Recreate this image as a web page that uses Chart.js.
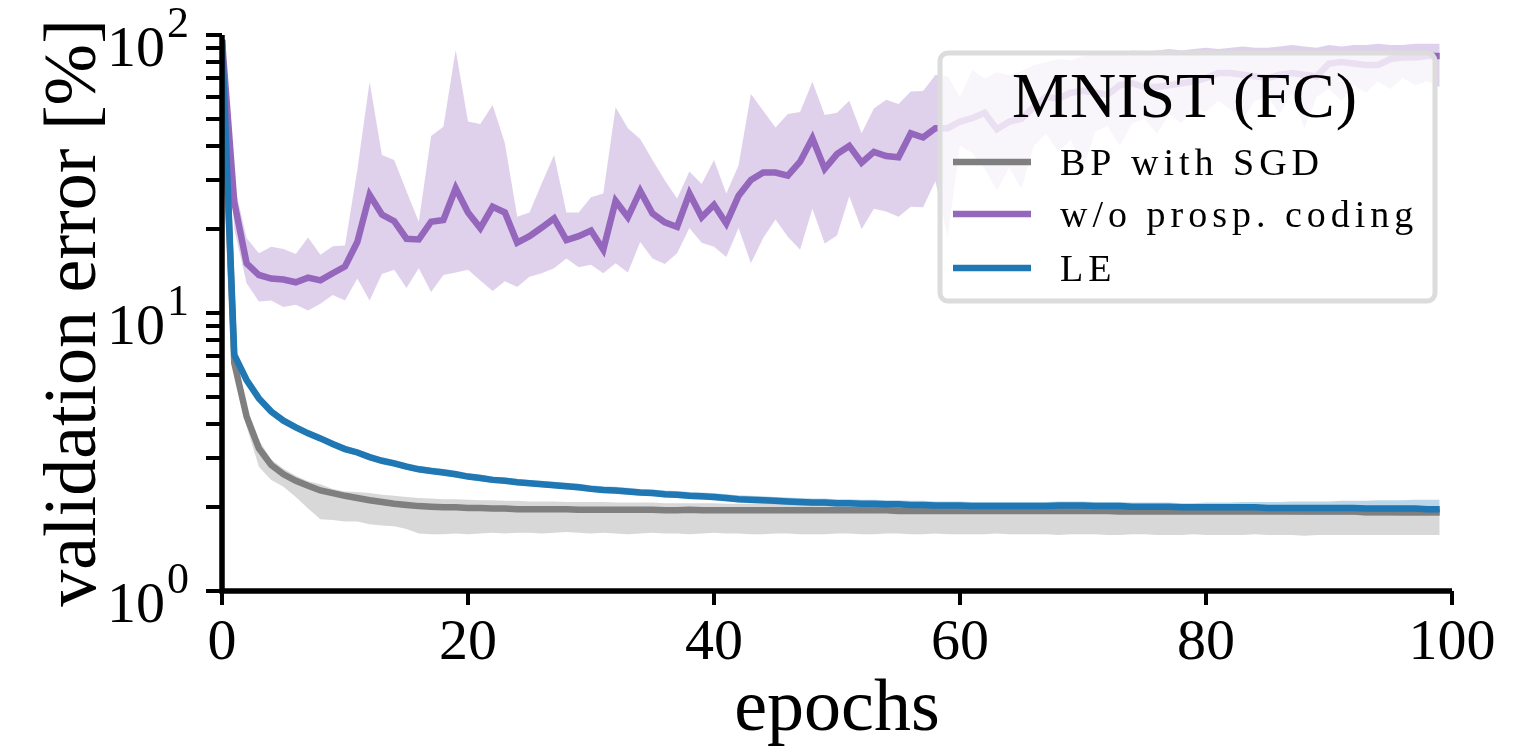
<!DOCTYPE html>
<html>
<head>
<meta charset="utf-8">
<script src="https://cdn.jsdelivr.net/npm/chart.js@4.4.1/dist/chart.umd.min.js"></script>
<style>
  body { margin:0; background:#fff; }
  canvas { display:block; }
</style>
</head>
<body>
<canvas id="plot" width="1527" height="755"></canvas>
<script>
// ---- data ----
const epochs = Array.from({length: 100}, (_, i) => i);

const yTicks = [1,2,3,4,5,6,7,8,9,10,20,30,40,50,60,70,80,90,100];
const yMajor = [1, 10, 100];
const yExp = ['0', '1', '2'];
const xTicks = [0, 20, 40, 60, 80, 100];

const legendTitle = 'MNIST (FC)';
const seriesNames = ['BP with SGD', 'w/o prosp. coding', 'LE'];

// BP with SGD
const bpMean = [96,6.6,4.24,3.26,2.84,2.63,2.49,2.39,2.30,2.25,
  2.20,2.16,2.12,2.09,2.06,2.04,2.02,2.01,2.00,2.00,
  1.99,1.99,1.98,1.98,1.97,1.97,1.97,1.97,1.97,1.96,
  1.96,1.96,1.96,1.96,1.96,1.96,1.95,1.95,1.96,1.95,
  1.95,1.95,1.95,1.95,1.95,1.95,1.95,1.95,1.95,1.95,
  1.95,1.95,1.95,1.95,1.95,1.94,1.94,1.94,1.94,1.94,
  1.94,1.94,1.94,1.94,1.94,1.94,1.94,1.94,1.94,1.94,
  1.94,1.94,1.94,1.93,1.93,1.93,1.93,1.93,1.93,1.93,
  1.93,1.93,1.93,1.93,1.93,1.93,1.93,1.93,1.93,1.93,
  1.93,1.93,1.93,1.92,1.92,1.92,1.92,1.92,1.92,1.92];
const bpLow = [90,6.0,3.9,2.80,2.51,2.37,2.18,1.98,1.81,1.80,
  1.78,1.78,1.74,1.72,1.71,1.67,1.61,1.60,1.60,1.61,
  1.60,1.61,1.62,1.61,1.62,1.62,1.61,1.62,1.63,1.62,
  1.61,1.62,1.61,1.60,1.61,1.62,1.61,1.61,1.60,1.61,
  1.62,1.61,1.61,1.60,1.60,1.61,1.61,1.60,1.60,1.60,
  1.61,1.61,1.60,1.60,1.61,1.61,1.60,1.60,1.61,1.60,
  1.60,1.60,1.60,1.61,1.60,1.60,1.60,1.60,1.59,1.60,
  1.60,1.60,1.59,1.59,1.60,1.60,1.59,1.59,1.59,1.60,
  1.59,1.59,1.59,1.59,1.60,1.59,1.59,1.59,1.58,1.59,
  1.59,1.59,1.59,1.59,1.59,1.59,1.59,1.59,1.59,1.59];
const bpHigh = [99,7.2,4.6,3.49,2.97,2.75,2.60,2.48,2.42,2.33,
  2.28,2.27,2.25,2.22,2.20,2.18,2.16,2.15,2.14,2.14,
  2.13,2.12,2.12,2.11,2.11,2.10,2.10,2.10,2.09,2.09,
  2.09,2.09,2.08,2.08,2.08,2.08,2.07,2.07,2.07,2.07,
  2.07,2.06,2.06,2.06,2.06,2.06,2.06,2.05,2.05,2.05,
  2.05,2.05,2.05,2.05,2.05,2.04,2.04,2.04,2.04,2.04,
  2.04,2.04,2.04,2.04,2.04,2.04,2.04,2.04,2.04,2.04,
  2.03,2.03,2.03,2.03,2.03,2.03,2.03,2.03,2.03,2.03,
  2.03,2.03,2.03,2.03,2.03,2.03,2.03,2.03,2.03,2.03,
  2.02,2.02,2.02,2.02,2.02,2.02,2.02,2.02,2.02,2.02];

// w/o prospective coding
const npMean = [96,25,15.1,13.7,13.3,13.2,12.9,13.4,13.1,13.9,
  14.7,18.0,26.6,22.6,21.4,18.5,18.4,21.3,21.6,28.1,
  23.0,20.2,24.1,23.0,17.9,18.9,20.3,21.9,18.3,18.9,
  19.8,16.9,25.3,22.1,27.5,22.8,21.2,20.4,26.9,22.1,
  24.5,21.0,26.4,30.1,32.0,32.0,31.2,35.0,42.5,33.0,
  37.3,39.9,34.7,38.0,36.7,36.3,44.3,42.8,46.2,46.2,
  48.8,50.2,52.5,45.8,48.8,50,55,60,59,62,
  63,62,61,66,67,65,65,66,67,68,
  70,73,73,72,71,70,72,73,72,71,
  79,80,79,78,78,82,83,83,84,84];
const npLow = [90,20,12.8,11.0,11.1,10.5,10.7,10.2,10.8,11.6,
  11.1,13.3,11.1,13.8,14.3,12.3,14.5,11.9,13.7,14.0,
  14.3,13.1,12.0,13.0,12.4,13.5,13.9,14.5,15.7,14.6,
  14.9,13.9,15.1,14.0,18.0,15.7,15.0,16.4,20.2,17.9,
  17.3,15.9,20.2,15.1,18.6,21.7,18.8,16.9,23.7,17.8,
  19.0,26.3,20.0,23.7,23.2,22.2,24.1,24.0,29.8,18.8,
  39.9,37.6,33.0,27.6,33.3,28,40,44,38,42,
  33,45,47,40,48,50,44,52,48,55,
  53,58,54,50,58,60,52,62,46,60,
  64,58,66,62,68,64,70,66,68,65];
const npHigh = [100,29,18.6,16.4,17.3,17.0,16.3,18.7,16.2,17.4,
  17.5,32.7,67.9,37.0,35.5,27.4,21.3,43.3,46.8,88.3,
  48.8,47.8,56.0,40.8,22.2,23.0,29.3,37.0,23.0,23.0,
  26.1,26.9,55.0,46.2,42.3,35.5,30.0,25.8,32.3,29.1,
  35.5,26.9,34.0,61.4,53.4,46.5,52.0,52.8,67.9,51.5,
  52.5,58.0,44.3,54.4,58.5,56.5,62.6,62.9,71.8,71.0,
  59.8,74.9,69.8,73.5,71.8,74,78,80,82,81,
  84,85,86,85,88,87,88,89,88,89,
  90,89,90,91,90,90,91,92,91,90,
  92,91,92,92,93,92,92,93,93,93];

// LE
const leMean = [96,7.06,5.74,4.93,4.42,4.10,3.88,3.69,3.54,3.38,
  3.24,3.15,3.03,2.94,2.88,2.80,2.74,2.70,2.67,2.63,
  2.58,2.55,2.51,2.49,2.46,2.44,2.42,2.40,2.38,2.36,
  2.33,2.31,2.30,2.28,2.26,2.25,2.23,2.22,2.20,2.19,
  2.18,2.16,2.14,2.13,2.12,2.11,2.10,2.09,2.08,2.08,
  2.07,2.07,2.06,2.06,2.05,2.05,2.04,2.04,2.03,2.03,
  2.03,2.02,2.02,2.02,2.02,2.02,2.02,2.02,2.03,2.03,
  2.03,2.02,2.02,2.02,2.01,2.01,2.01,2.01,2.00,2.00,
  2.00,2.00,2.00,2.00,2.00,1.99,1.99,1.99,1.99,1.99,
  1.99,1.99,1.99,1.98,1.98,1.98,1.98,1.98,1.97,1.97];
const leLow = [90,6.85,5.55,4.78,4.30,3.99,3.78,3.60,3.45,3.30,
  3.16,3.07,2.96,2.87,2.80,2.73,2.67,2.64,2.60,2.56,
  2.52,2.48,2.45,2.43,2.40,2.38,2.36,2.34,2.32,2.30,
  2.27,2.25,2.24,2.22,2.20,2.19,2.17,2.16,2.14,2.13,
  2.12,2.10,2.08,2.07,2.06,2.05,2.04,2.03,2.02,2.02,
  2.01,2.01,2.00,2.00,1.99,1.99,1.98,1.98,1.97,1.97,
  1.97,1.96,1.96,1.96,1.96,1.96,1.96,1.96,1.97,1.96,
  1.96,1.95,1.95,1.95,1.94,1.94,1.94,1.94,1.93,1.93,
  1.93,1.93,1.93,1.92,1.92,1.91,1.90,1.89,1.88,1.88,
  1.88,1.88,1.88,1.87,1.87,1.87,1.86,1.86,1.86,1.86];
const leHigh = [99,7.25,5.92,5.09,4.56,4.22,3.99,3.79,3.64,3.47,
  3.33,3.24,3.12,3.03,2.96,2.88,2.82,2.78,2.75,2.71,
  2.65,2.62,2.58,2.56,2.53,2.51,2.49,2.47,2.45,2.43,
  2.40,2.38,2.37,2.35,2.33,2.32,2.30,2.29,2.27,2.26,
  2.25,2.23,2.21,2.20,2.19,2.18,2.17,2.16,2.15,2.15,
  2.14,2.14,2.13,2.13,2.12,2.12,2.11,2.11,2.10,2.10,
  2.10,2.09,2.09,2.09,2.09,2.09,2.09,2.09,2.10,2.10,
  2.10,2.09,2.09,2.09,2.08,2.08,2.08,2.08,2.07,2.07,
  2.08,2.08,2.08,2.09,2.09,2.09,2.09,2.10,2.10,2.10,
  2.10,2.11,2.11,2.11,2.12,2.12,2.12,2.13,2.13,2.13];

// ---- style ----
const SERIF = "'Liberation Serif', 'DejaVu Serif', serif";
const COLORS = ['#7f7f7f', '#9467bd', '#1f77b4'];
const BANDS = ['rgba(127,127,127,0.3)', 'rgba(148,103,189,0.3)', 'rgba(31,119,180,0.3)'];
const LW = 6.5;

function meanLine(i, data, order){
  return { label: seriesNames[i], data, borderColor: COLORS[i], backgroundColor: COLORS[i],
           borderWidth: LW, pointRadius: 0, tension: 0, fill: false, order };
}
function bandEdge(i, data, fill, order){
  return { label: '', data, borderWidth: 0, borderColor: 'rgba(0,0,0,0)', pointRadius: 0,
           tension: 0, backgroundColor: BANDS[i], fill, order };
}

// axes ink (spines, ticks, 10^n labels)
const axisInk = {
  id: 'axisInk',
  afterDraw(chart){
    const g = chart.ctx, a = chart.chartArea;
    const xs = chart.scales.x, ys = chart.scales.y;
    g.save();
    g.strokeStyle = '#000';
    g.lineCap = 'butt';
    g.lineWidth = 5.5;
    g.beginPath();
    g.moveTo(a.left, a.top);
    g.lineTo(a.left, a.bottom + 2.75);
    g.moveTo(a.left - 2.75, a.bottom);
    g.lineTo(a.right, a.bottom);
    g.stroke();

    g.lineWidth = 4;
    g.beginPath();
    yTicks.forEach(v => {
      const py = Math.round(ys.getPixelForValue(v));
      g.moveTo(a.left - 16, py);
      g.lineTo(a.left, py);
    });
    xTicks.forEach(v => {
      const px = Math.round(xs.getPixelForValue(v));
      g.moveTo(px, a.bottom);
      g.lineTo(px, a.bottom + 14);
    });
    g.stroke();

    g.fillStyle = '#000';
    g.textBaseline = 'alphabetic';
    yMajor.forEach((v, i) => {
      const py = ys.getPixelForValue(v);
      g.font = '58px ' + SERIF;
      g.textAlign = 'right';
      g.fillText('10', a.left - 57, py + 31);
      g.font = '44px ' + SERIF;
      g.textAlign = 'left';
      g.fillText(yExp[i], a.left - 55, py + 2);
    });
    g.restore();
  }
};

// framed legend with title
const boxLegend = {
  id: 'boxLegend',
  afterDraw(chart){
    const g = chart.ctx, a = chart.chartArea;
    const lx = a.right - 512, ly = a.top + 18;
    g.save();
    g.beginPath();
    g.roundRect(lx, ly, 495, 248, 8);
    g.fillStyle = 'rgba(255,255,255,0.8)';
    g.fill();
    g.lineWidth = 5;
    g.strokeStyle = '#dcdcdc';
    g.stroke();

    g.fillStyle = '#000';
    g.textBaseline = 'alphabetic';
    g.font = '64px ' + SERIF;
    g.textAlign = 'center';
    g.letterSpacing = '1px';
    g.fillText(legendTitle, lx + 245, ly + 64);

    g.font = '38px ' + SERIF;
    g.textAlign = 'left';
    g.letterSpacing = '5px';
    [109, 161, 215].forEach((dy, i) => {
      g.beginPath();
      g.moveTo(lx + 13, ly + dy);
      g.lineTo(lx + 91, ly + dy);
      g.strokeStyle = COLORS[i];
      g.lineWidth = LW;
      g.stroke();
      g.fillText(seriesNames[i], lx + 120, ly + dy + 13);
    });
    g.restore();
  }
};

new Chart(document.getElementById('plot').getContext('2d'), {
  type: 'line',
  data: {
    labels: epochs,
    datasets: [
      meanLine(0, bpMean, 2),
      meanLine(1, npMean, 1),
      meanLine(2, leMean, 0),
      bandEdge(0, bpHigh, '+1', 5),
      bandEdge(0, bpLow, false, 5),
      bandEdge(1, npHigh, '+1', 4),
      bandEdge(1, npLow, false, 4),
      bandEdge(2, leHigh, '+1', 3),
      bandEdge(2, leLow, false, 3)
    ]
  },
  options: {
    responsive: false,
    animation: false,
    events: [],
    layout: { padding: { top: 35, right: 75, left: 0, bottom: 0 } },
    plugins: { legend: { display: false }, tooltip: { enabled: false } },
    scales: {
      x: {
        type: 'linear', min: 0, max: 100,
        afterFit: s => { s.height = 164; },
        ticks: { stepSize: 20, color: '#000', padding: 4,
                 font: { family: SERIF, size: 58 }, maxRotation: 0 },
        grid: { display: false, drawTicks: true, tickLength: 14 },
        border: { display: false },
        title: { display: true, text: 'epochs', color: '#000',
                 font: { family: SERIF, size: 74 }, padding: { top: 0, bottom: 0 } }
      },
      y: {
        type: 'logarithmic', min: 1, max: 100,
        afterFit: s => { s.width = 222; },
        ticks: { display: false },
        grid: { display: false },
        border: { display: false },
        title: { display: true, text: 'validation error [%]', color: '#000',
                 font: { family: SERIF, size: 74 }, padding: { top: 31, bottom: 0 } }
      }
    }
  },
  plugins: [axisInk, boxLegend]
});
</script>
</body>
</html>
